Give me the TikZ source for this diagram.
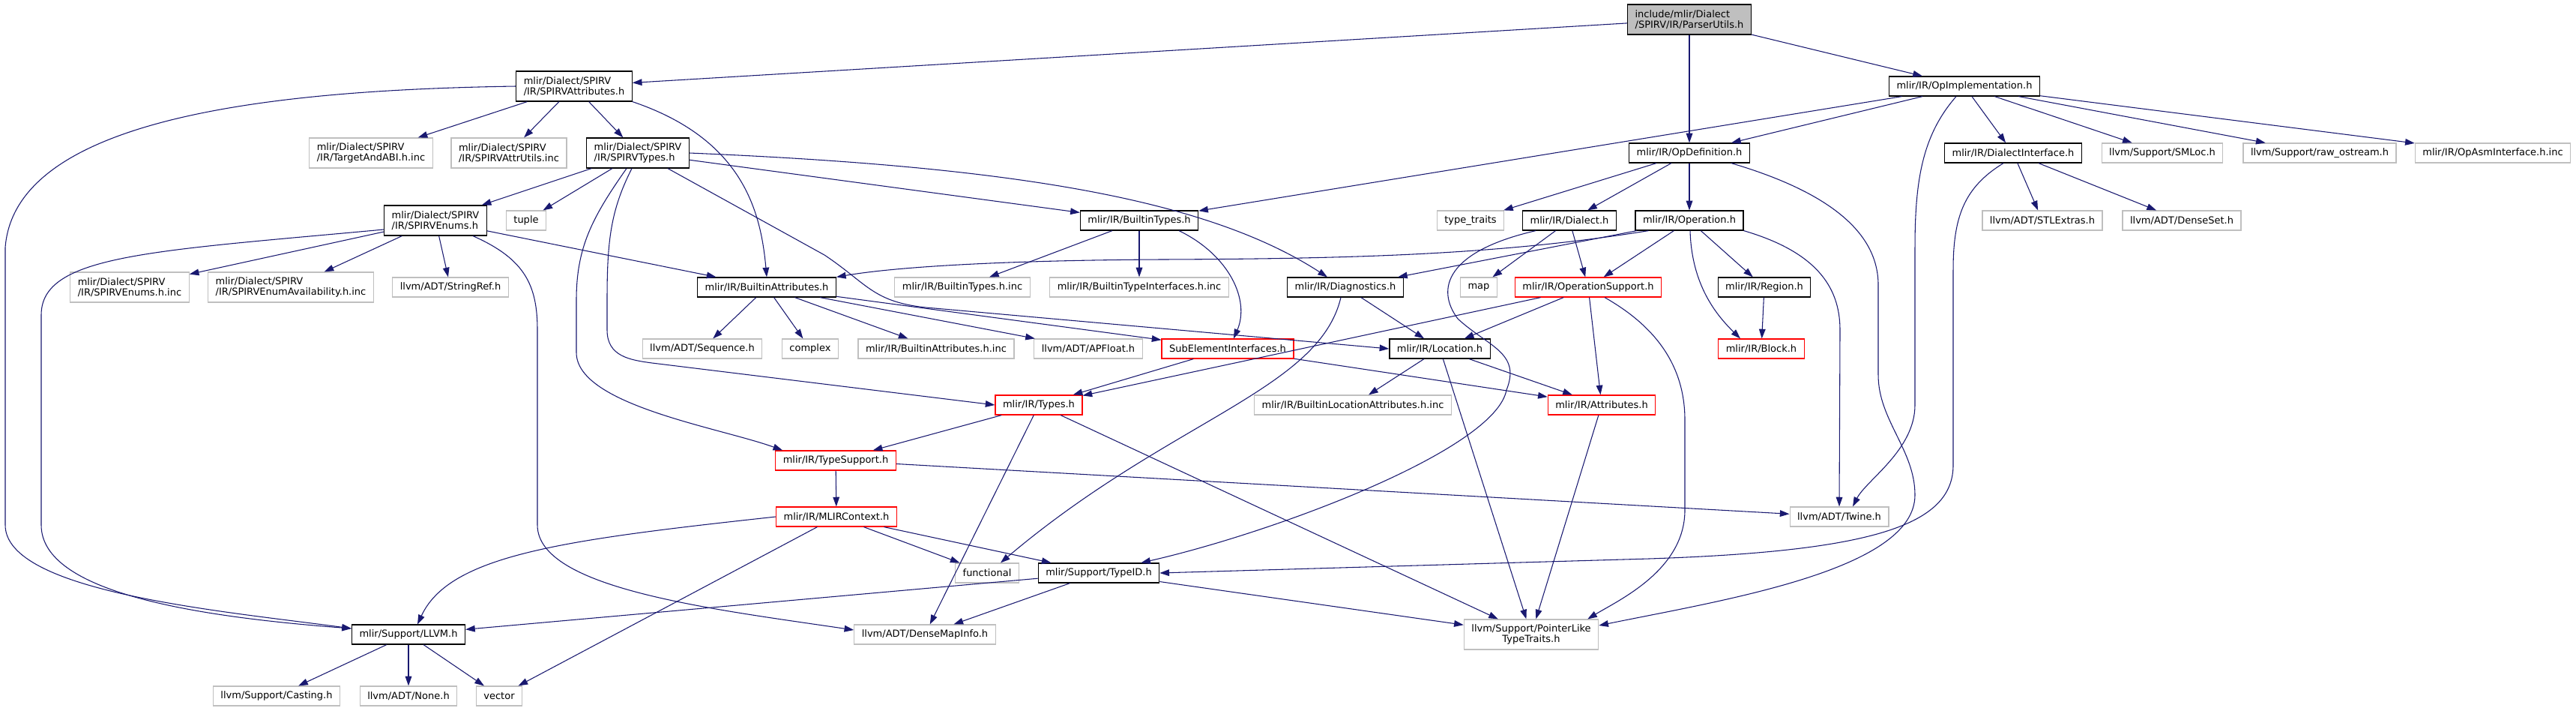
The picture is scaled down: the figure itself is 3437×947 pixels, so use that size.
\documentclass[tikz,border=0pt]{standalone}
\usepackage{fontspec}
\setmainfont{DejaVu Sans}
\usetikzlibrary{arrows.meta, positioning, calc}
\definecolor{edgeblue}{RGB}{25,25,112}
\definecolor{leafgray}{RGB}{191,191,191}
\definecolor{rootgray}{RGB}{191,191,191}
\definecolor{trunred}{RGB}{255,0,0}
\tikzset{
  base/.style={rectangle, inner xsep=7.5pt, inner ysep=1pt, minimum height=19.5pt,
    font=\fontsize{9.75}{11}\selectfont, line width=0.9pt},
  block/.style={base, draw=black, fill=white},
  redblock/.style={base, draw=trunred, fill=white},
  leaf/.style={base, draw=leafgray, fill=white},
  rootblock/.style={base, draw=black, fill=rootgray},
  twoline/.style={minimum height=30pt, align=left},
  arrow/.style={-{Triangle[length=9.5pt,width=6.5pt]}, line width=0.8pt, color=edgeblue}
}
\begin{document}
\begin{tikzpicture}[x=0.75pt, y=-0.75pt]
  \useasboundingbox (0,0) rectangle (3437,947);
  % row 0-1
  \node [rootblock, twoline] (root) at (2254,26) {include/mlir/Dialect\\/SPIRV/IR/ParserUtils.h};
  \node [block, twoline] (spvattr) at (766,115) {mlir/Dialect/SPIRV\\/IR/SPIRVAttributes.h};
  \node [block] (opimpl) at (2621,115) {mlir/IR/OpImplementation.h};
  % row 2
  \node [leaf, twoline] (abi) at (495,204) {mlir/Dialect/SPIRV\\/IR/TargetAndABI.h.inc};
  \node [leaf, twoline] (attrutils) at (679,204) {mlir/Dialect/SPIRV\\/IR/SPIRVAttrUtils.inc};
  \node [block, twoline] (spvtypes) at (851,204) {mlir/Dialect/SPIRV\\/IR/SPIRVTypes.h};
  \node [block] (opdef) at (2254,204) {mlir/IR/OpDefinition.h};
  \node [block] (dialiface) at (2686,204) {mlir/IR/DialectInterface.h};
  \node [leaf] (smloc) at (2885,204) {llvm/Support/SMLoc.h};
  \node [leaf] (rawos) at (3095,204) {llvm/Support/raw\_ostream.h};
  \node [leaf] (asmiface) at (3326,204) {mlir/IR/OpAsmInterface.h.inc};
  % row 3
  \node [block, twoline] (spvenums) at (581,294) {mlir/Dialect/SPIRV\\/IR/SPIRVEnums.h};
  \node [leaf] (tuple) at (702,294) {tuple};
  \node [block] (btypes) at (1520,294) {mlir/IR/BuiltinTypes.h};
  \node [leaf] (typetraits) at (1962,294) {type\_traits};
  \node [block] (dialect) at (2094,294) {mlir/IR/Dialect.h};
  \node [block] (operation) at (2254,294) {mlir/IR/Operation.h};
  \node [leaf] (stlextras) at (2725,294) {llvm/ADT/STLExtras.h};
  \node [leaf] (denseset) at (2911,294) {llvm/ADT/DenseSet.h};
  % row 4
  \node [leaf, twoline] (enumsinc) at (173,383) {mlir/Dialect/SPIRV\\/IR/SPIRVEnums.h.inc};
  \node [leaf, twoline] (enumavail) at (388,383) {mlir/Dialect/SPIRV\\/IR/SPIRVEnumAvailability.h.inc};
  \node [leaf] (stringref) at (601,383) {llvm/ADT/StringRef.h};
  \node [block] (battr) at (1023,383) {mlir/IR/BuiltinAttributes.h};
  \node [leaf] (btypesinc) at (1284,383) {mlir/IR/BuiltinTypes.h.inc};
  \node [leaf] (btifaceinc) at (1520,383) {mlir/IR/BuiltinTypeInterfaces.h.inc};
  \node [block] (diag) at (1795,383) {mlir/IR/Diagnostics.h};
  \node [leaf] (map) at (1973,383) {map};
  \node [redblock] (opsupport) at (2119,383) {mlir/IR/OperationSupport.h};
  \node [block] (region) at (2354,383) {mlir/IR/Region.h};
  % row 5
  \node [leaf] (sequence) at (937,465) {llvm/ADT/Sequence.h};
  \node [leaf] (complex) at (1081,465) {complex};
  \node [leaf] (battrinc) at (1249,465) {mlir/IR/BuiltinAttributes.h.inc};
  \node [leaf] (apfloat) at (1452,465) {llvm/ADT/APFloat.h};
  \node [redblock] (subelem) at (1638,465) {SubElementInterfaces.h};
  \node [block] (location) at (1921,465) {mlir/IR/Location.h};
  \node [redblock] (blockh) at (2350,465) {mlir/IR/Block.h};
  % row 6-7
  \node [redblock] (types) at (1386,540) {mlir/IR/Types.h};
  \node [leaf] (blocattr) at (1805,540) {mlir/IR/BuiltinLocationAttributes.h.inc};
  \node [redblock] (attrs) at (2137,540) {mlir/IR/Attributes.h};
  \node [redblock] (typesupport) at (1115,614) {mlir/IR/TypeSupport.h};
  \node [redblock] (mlirctx) at (1116,689) {mlir/IR/MLIRContext.h};
  \node [leaf] (twine) at (2454,689) {llvm/ADT/Twine.h};
  % row 8-10
  \node [leaf] (functional) at (1317,764) {functional};
  \node [block] (typeid) at (1466,764) {mlir/Support/TypeID.h};
  \node [block] (llvm) at (545,846) {mlir/Support/LLVM.h};
  \node [leaf] (densemap) at (1234,846) {llvm/ADT/DenseMapInfo.h};
  \node [leaf, twoline, align=center] (ptrlike) at (2043,846) {llvm/Support/PointerLike\\TypeTraits.h};
  \node [leaf] (casting) at (369,928) {llvm/Support/Casting.h};
  \node [leaf] (none) at (545,928) {llvm/ADT/None.h};
  \node [leaf] (vector) at (666,928) {vector};

  % ParserUtils.h
  \draw [arrow] (root) -- (spvattr);
  \draw [arrow] (root) -- (opdef);
  \draw [arrow] (root) -- (opimpl);
  % SPIRVAttributes.h
  \draw [arrow] (spvattr) -- (abi);
  \draw [arrow] (spvattr) -- (attrutils);
  \draw [arrow] (spvattr) -- (spvtypes);
  \draw [arrow] (spvattr.south east) .. controls (990,185) and (1015,280) .. (battr.north);
  \draw [arrow] (spvattr.west) .. controls (350,120) and (20,160) .. (7,330) -- (7,700)
    .. controls (7,790) and (300,815) .. ($(llvm.west)+(0,-8)$);
  % SPIRVTypes.h
  \draw [arrow] (spvtypes) -- (spvenums);
  \draw [arrow] (spvtypes) -- (tuple);
  \draw [arrow] (spvtypes) -- (btypes);
  \draw [arrow] ($(spvtypes.south)+(-15,0)$) .. controls (790,290) and (769,330) .. (769,400) -- (769,470)
    .. controls (769,540) and (960,570) .. ($(typesupport.north west)+(10,0)$);
  \draw [arrow] ($(spvtypes.south)+(-8,0)$) .. controls (815,280) and (810,320) .. (810,400) -- (810,440)
    .. controls (810,475) and (840,480) .. (870,484) -- (types.west);
  \draw [arrow] (spvtypes.east) .. controls (1350,222) and (1610,265) .. ($(diag.north)+(-24,0)$);
  \draw [arrow] ($(spvtypes.south)+(40,0)$) -- (1100,340) .. controls (1160,380) and (1165,405) .. (1247,411)
    -- (location.west);
  % SPIRVEnums.h
  \draw [arrow] (spvenums) -- (enumsinc);
  \draw [arrow] (spvenums) -- (enumavail);
  \draw [arrow] (spvenums) -- (stringref);
  \draw [arrow] (spvenums) -- (battr);
  \draw [arrow] ($(spvenums.west)+(0,12)$) .. controls (200,335) and (55,340) .. (55,420) -- (55,700)
    .. controls (55,790) and (260,822) .. ($(llvm.west)+(0,-8)$);
  \draw [arrow] ($(spvenums.south)+(50,0)$) .. controls (700,345) and (717,380) .. (717,440) -- (717,700)
    .. controls (717,785) and (950,812) .. ($(densemap.west)+(0,-6)$);
  % BuiltinAttributes.h
  \draw [arrow] (battr) -- (sequence);
  \draw [arrow] (battr) -- (complex);
  \draw [arrow] (battr) -- (battrinc);
  \draw [arrow] (battr) -- (apfloat);
  \draw [arrow] (battr) -- (subelem);
  % BuiltinTypes.h
  \draw [arrow] (btypes) -- (btypesinc);
  \draw [arrow] (btypes) -- (btifaceinc);
  \draw [arrow] ($(btypes.south)+(53,0)$) .. controls (1640,340) and (1668,400) .. ($(subelem.north)+(8,0)$);
  % OpImplementation.h
  \draw [arrow] (opimpl) -- (btypes);
  \draw [arrow] (opimpl) -- (opdef);
  \draw [arrow] (opimpl) -- (dialiface);
  \draw [arrow] (opimpl) -- (smloc);
  \draw [arrow] (opimpl) -- (rawos);
  \draw [arrow] (opimpl) -- (asmiface);
  \draw [arrow] ($(opimpl.south)+(-11,0)$) .. controls (2565,180) and (2555,240) .. (2555,330) -- (2555,540)
    .. controls (2555,600) and (2490,640) .. ($(twine.north)+(18,0)$);
  % OpDefinition.h
  \draw [arrow] (opdef) -- (typetraits);
  \draw [arrow] (opdef) -- (dialect);
  \draw [arrow] (opdef) -- (operation);
  \draw [arrow] ($(opdef.south)+(56,0)$) .. controls (2420,250) and (2506,300) .. (2506,380) -- (2506,500)
    .. controls (2506,560) and (2555,600) .. (2555,660)
    .. controls (2555,760) and (2300,800) .. ($(ptrlike.east)+(0,-12)$);
  % Dialect.h
  \draw [arrow] (dialect) -- (map);
  \draw [arrow] (dialect) -- (opsupport);
  \draw [arrow] ($(dialect.south west)+(18,0)$) .. controls (1930,335) and (1915,385) .. (1945,425)
    .. controls (1985,462) and (2030,470) .. (2010,520)
    .. controls (1995,600) and (1700,710) .. ($(typeid.north east)+(-25,0)$);
  % Operation.h
  \draw [arrow] (operation) -- (opsupport);
  \draw [arrow] (operation) -- (region);
  \draw [arrow] (operation) -- (diag);
  \draw [arrow] ($(operation.south west)+(18,0)$) .. controls (2000,340) and (1800,345) .. (1550,346)
    .. controls (1350,347) and (1200,355) .. (battr.north east);
  \draw [arrow] ($(operation.south)+(1,0)$) .. controls (2257,380) and (2290,420) .. ($(blockh.north)+(-28,0)$);
  \draw [arrow] (operation.south east) .. controls (2420,335) and (2455,380) .. (2455,440) -- (twine.north);
  % OperationSupport.h
  \draw [arrow] (opsupport) -- (types);
  \draw [arrow] (opsupport) -- (location);
  \draw [arrow] (opsupport) -- (attrs);
  \draw [arrow] ($(opsupport.south)+(22,0)$) .. controls (2200,430) and (2248,480) .. (2248,560) -- (2248,680)
    .. controls (2248,760) and (2160,800) .. ($(ptrlike.north east)+(-15,0)$);
  % Diagnostics.h
  \draw [arrow] (diag) -- (location);
  \draw [arrow] ($(diag.south)+(-6,0)$) .. controls (1760,520) and (1560,560) .. ($(functional.north)+(18,0)$);
  % SubElementInterfaces.h, Location.h, Region.h, Attributes.h
  \draw [arrow] (subelem) -- (types);
  \draw [arrow] (subelem) -- (attrs);
  \draw [arrow] (location) -- (blocattr);
  \draw [arrow] (location) -- (attrs);
  \draw [arrow] (location) -- (ptrlike);
  \draw [arrow] (region) -- (blockh);
  \draw [arrow] (attrs) -- (ptrlike);
  % Types.h
  \draw [arrow] (types) -- (typesupport);
  \draw [arrow] (types) -- (densemap);
  \draw [arrow] (types) -- (ptrlike);
  % TypeSupport.h
  \draw [arrow] (typesupport) -- (mlirctx);
  \draw [arrow] (typesupport) -- (twine);
  % MLIRContext.h
  \draw [arrow] (mlirctx.west) .. controls (750,720) and (600,740) .. ($(llvm.north)+(12,0)$);
  \draw [arrow] (mlirctx) -- (vector);
  \draw [arrow] (mlirctx) -- (functional);
  \draw [arrow] (mlirctx) -- (typeid);
  % TypeID.h
  \draw [arrow] (typeid) -- (llvm);
  \draw [arrow] (typeid) -- (densemap);
  \draw [arrow] (typeid) -- (ptrlike);
  % DialectInterface.h
  \draw [arrow] (dialiface) -- (stlextras);
  \draw [arrow] (dialiface) -- (denseset);
  \draw [arrow] ($(dialiface.south)+(-13,0)$) .. controls (2620,250) and (2606,290) .. (2606,360) -- (2606,620)
    .. controls (2606,700) and (2500,735) .. (2200,745) -- (typeid.east);
  % LLVM.h
  \draw [arrow] (llvm) -- (casting);
  \draw [arrow] (llvm) -- (none);
  \draw [arrow] (llvm) -- (vector);
\end{tikzpicture}
\end{document}
